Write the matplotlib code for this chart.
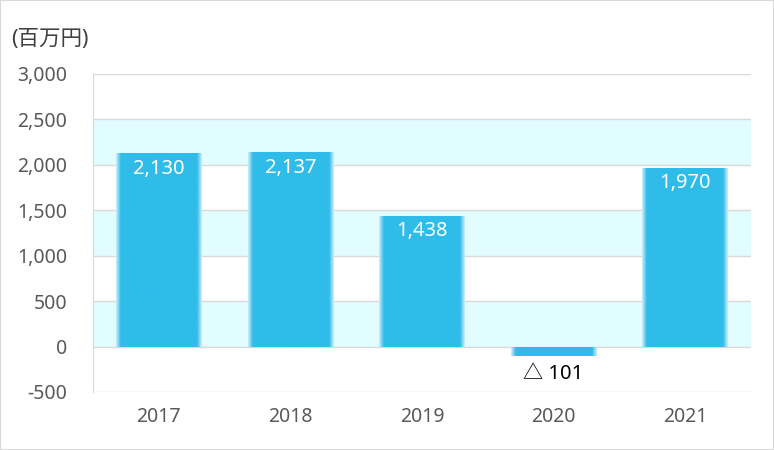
import numpy as np
import matplotlib
matplotlib.use('Agg')
import matplotlib.pyplot as plt
from matplotlib.colors import LinearSegmentedColormap
from matplotlib.patches import Rectangle

plt.rcParams['font.family'] = ['Noto Sans', 'Noto Sans CJK JP', 'DejaVu Sans']

# data
years = ['2017', '2018', '2019', '2020', '2021']
profit = [2130, 2137, 1438, -101, 1970]
bar_labels = ['2,130', '2,137', '1,438', '△ 101', '1,970']
yticks = [-500, 0, 500, 1000, 1500, 2000, 2500, 3000]
ytick_labels = ['-500', '0', '500', '1,000', '1,500', '2,000', '2,500', '3,000']
bands = [(0, 500), (1000, 1500), (2000, 2500)]

bar_color = '#2FBCE9'
band_color = '#E1FDFF'
grid_color = '#D9D9D9'
text_gray = '#595959'
fs = 14

fig = plt.figure(figsize=(7.74, 4.5), dpi=100)
ax = fig.add_axes([0.1202, 0.1289, 0.8501, 0.7067])

for lo, hi in bands:
    ax.axhspan(lo, hi, color=band_color, zorder=0, lw=0)

x = np.arange(len(years))
bars = ax.bar(x, profit, width=0.65, color=bar_color, zorder=3)

# soft light edges on each bar, like the original fill
cmap = LinearSegmentedColormap.from_list('edge', ['#FFFFFF', bar_color])
prof = np.ones(200)
ramp = np.linspace(0.25, 1.0, 12)
prof[:12] = ramp
prof[-12:] = ramp[::-1]
grad = prof[np.newaxis, :]
for b in bars:
    bx, by = b.get_x(), b.get_y()
    bw, bh = b.get_width(), b.get_height()
    im = ax.imshow(grad, cmap=cmap, vmin=0, vmax=1, aspect='auto',
                   extent=(bx, bx + bw, by, by + bh), zorder=4, interpolation='bilinear')
    im.set_clip_path(b)
    b.set_facecolor('none')

for xi, v, lab in zip(x, profit, bar_labels):
    if v >= 0:
        ax.annotate(lab, (xi, v), xytext=(0, -4), textcoords='offset points',
                    ha='center', va='top', color='white', fontsize=14.5, zorder=5)
    else:
        ax.annotate(lab, (xi, v), xytext=(0, -6), textcoords='offset points',
                    ha='center', va='top', color='black', fontsize=14.5, zorder=5)

ax.set_xlim(-0.5, len(years) - 0.5)
ax.set_ylim(-500, 3000)
ax.set_yticks(yticks)
ax.set_yticklabels(ytick_labels)
ax.set_xticks(x)
ax.set_xticklabels(years)
ax.tick_params(axis='both', length=0, labelsize=fs, colors=text_gray)
ax.tick_params(axis='y', pad=18.5)
ax.tick_params(axis='x', pad=11)
ax.yaxis.grid(True, color=grid_color, lw=1, zorder=1)
ax.set_axisbelow(True)
for s in ['top', 'right', 'bottom']:
    ax.spines[s].set_visible(False)
ax.spines['left'].set_color(grid_color)

fig.text(0.015, 0.912, '(百万円)', fontsize=15.5, color='#404040', ha='left', va='center')

fig.patches.append(Rectangle((0, 0), 1, 1, transform=fig.transFigure, fill=False,
                             edgecolor='#D9D9D9', lw=1.5))

plt.savefig('out.png', dpi=100)
